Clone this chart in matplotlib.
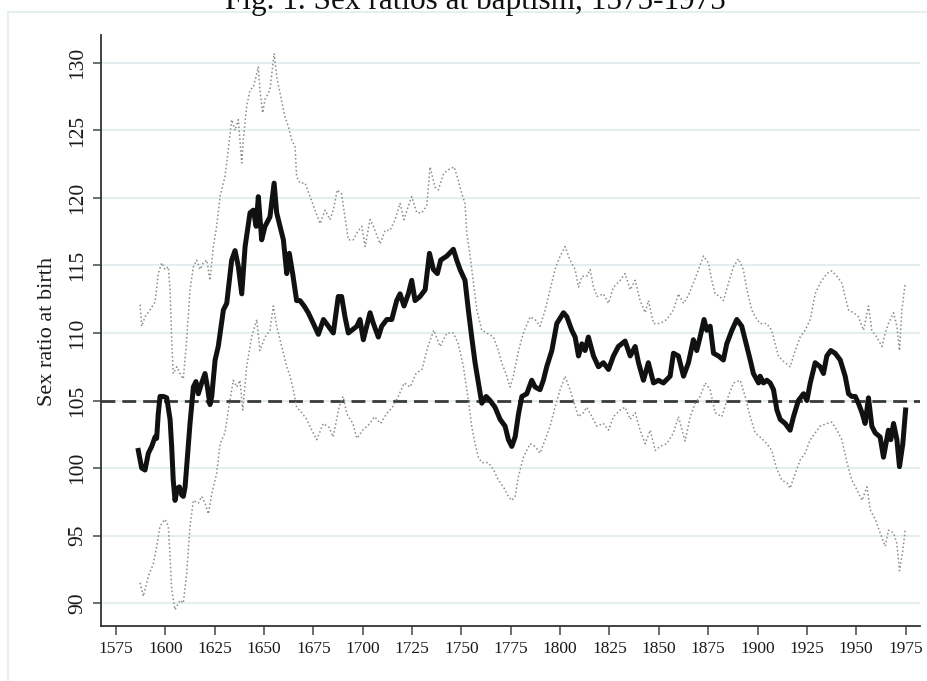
import matplotlib
matplotlib.use("Agg")
import matplotlib.pyplot as plt
from matplotlib.lines import Line2D

plt.rcParams['font.family'] = ['Liberation Serif', 'DejaVu Serif']

title = "Fig. 1. Sex ratios at baptism, 1575-1975"
ylabel = "Sex ratio at birth"
xticks = [1575, 1600, 1625, 1650, 1675, 1700, 1725, 1750, 1775, 1800, 1825, 1850, 1875, 1900, 1925, 1950, 1975]
yticks = [90, 95, 100, 105, 110, 115, 120, 125, 130]
reference_ratio = 105

main_years = [1586.3, 1588.0, 1589.7, 1591.4, 1593.1, 1594.8, 1595.6, 1596.4, 1597.3, 1599.0,
              1600.7, 1602.4, 1603.2, 1604.0, 1604.9, 1606.1, 1607.1, 1608.3, 1609.1, 1610.0,
              1610.8, 1612.5, 1614.2, 1615.5, 1616.7, 1618.4, 1620.1, 1621.3, 1622.6, 1623.5,
              1625.2, 1626.8, 1629.4, 1631.1, 1633.6, 1635.3, 1637.0, 1638.7, 1640.4, 1642.9,
              1644.6, 1646.0, 1647.1, 1648.8, 1650.5, 1653.0, 1655.1, 1656.4, 1658.1, 1659.8,
              1661.5, 1662.8, 1664.5, 1666.5, 1668.2, 1670.3, 1672.4, 1675.0, 1677.5, 1680.1,
              1682.6, 1685.1, 1687.6, 1689.3, 1691.0, 1692.7, 1697.0, 1698.6, 1700.3, 1703.7,
              1705.4, 1707.9, 1709.6, 1712.2, 1714.7, 1717.2, 1718.9, 1720.9, 1723.1, 1724.8,
              1726.5, 1729.0, 1731.6, 1733.8, 1735.8, 1737.8, 1739.5, 1742.6, 1745.9, 1747.6,
              1749.3, 1751.8, 1753.5, 1755.2, 1756.9, 1758.6, 1760.3, 1762.5, 1764.5, 1767.0,
              1769.6, 1772.1, 1773.8, 1775.5, 1777.2, 1778.9, 1780.6, 1783.1, 1785.6, 1787.3,
              1789.8, 1791.5, 1793.2, 1795.8, 1798.3, 1801.7, 1803.4, 1805.9, 1807.6, 1809.3,
              1811.0, 1812.6, 1814.3, 1816.9, 1819.4, 1821.9, 1824.5, 1827.0, 1829.5, 1832.9,
              1835.5, 1838.0, 1839.7, 1842.2, 1844.7, 1847.3, 1849.8, 1852.3, 1855.7, 1857.4,
              1859.9, 1862.5, 1865.0, 1867.5, 1869.2, 1870.9, 1872.9, 1874.3, 1876.0, 1877.7,
              1880.2, 1882.7, 1884.4, 1887.0, 1889.5, 1892.0, 1894.6, 1896.3, 1897.9, 1900.5,
              1901.3, 1903.0, 1904.7, 1906.4, 1908.1, 1909.8, 1911.5, 1914.0, 1916.5, 1918.2,
              1920.7, 1923.3, 1925.0, 1926.7, 1929.2, 1931.7, 1933.4, 1935.1, 1937.1, 1939.3,
              1941.9, 1944.4, 1946.1, 1947.8, 1949.5, 1951.1, 1952.9, 1954.5, 1956.2, 1957.9,
              1959.6, 1962.1, 1963.8, 1966.3, 1967.5, 1968.9, 1970.6, 1971.9, 1973.6, 1975.0]
main_ratio = [101.3, 100.0, 99.85, 101.1, 101.6, 102.3, 102.2, 104.0, 105.3, 105.3,
              105.2, 103.6, 101.6, 99.1, 97.6, 98.5, 98.6, 98.0, 97.9, 98.6,
              100.1, 103.3, 106.0, 106.4, 105.5, 106.3, 107.0, 106.0, 104.7, 105.3,
              108.0, 109.0, 111.7, 112.2, 115.4, 116.1, 114.9, 112.9, 116.4, 118.9,
              119.1, 117.9, 120.1, 116.9, 117.9, 118.6, 121.1, 118.9, 117.9, 116.9,
              114.4, 115.9, 114.4, 112.4, 112.4, 112.0, 111.5, 110.7, 109.9, 111.0,
              110.5, 110.0, 112.7, 112.7, 111.2, 110.0, 110.5, 111.0, 109.5, 111.5,
              110.7, 109.7, 110.5, 111.0, 111.0, 112.4, 112.9, 112.0, 112.9, 113.9,
              112.4, 112.7, 113.2, 115.9, 114.7, 114.4, 115.4, 115.7, 116.2, 115.4,
              114.7, 113.9, 111.7, 109.7, 107.8, 106.3, 104.8, 105.3, 105.0, 104.5,
              103.6, 103.1, 102.1, 101.6, 102.3, 104.0, 105.3, 105.5, 106.5, 106.0,
              105.8, 106.5, 107.5, 108.7, 110.7, 111.5, 111.2, 110.2, 109.7, 108.3,
              109.2, 108.7, 109.7, 108.3, 107.5, 107.8, 107.3, 108.3, 109.0, 109.4,
              108.3, 109.0, 107.8, 106.5, 107.8, 106.3, 106.5, 106.3, 106.8, 108.5,
              108.3, 106.8, 107.8, 109.5, 108.7, 109.7, 111.0, 110.2, 110.5, 108.5,
              108.3, 108.0, 109.2, 110.2, 111.0, 110.5, 109.0, 108.0, 107.0, 106.3,
              106.8, 106.3, 106.5, 106.3, 105.8, 104.3, 103.6, 103.3, 102.8, 103.8,
              105.0, 105.5, 105.0, 106.3, 107.8, 107.5, 107.0, 108.3, 108.7, 108.5,
              108.0, 106.8, 105.5, 105.3, 105.3, 104.8, 104.1, 103.3, 105.2, 103.1,
              102.6, 102.3, 100.8, 102.8, 102.1, 103.3, 102.1, 100.1, 101.8, 104.3]

upper_years = [1587.2, 1588.0, 1589.7, 1592.2, 1594.8, 1596.4, 1598.2, 1599.8, 1601.5, 1602.4,
               1603.2, 1604.0, 1605.8, 1607.4, 1609.1, 1610.8, 1612.5, 1614.2, 1615.9, 1617.6,
               1619.2, 1621.0, 1622.6, 1624.3, 1626.0, 1627.7, 1630.2, 1631.9, 1633.6, 1635.3,
               1637.0, 1638.7, 1639.5, 1641.2, 1642.9, 1644.6, 1646.3, 1647.1, 1647.9, 1649.3,
               1650.5, 1653.0, 1655.1, 1656.4, 1658.1, 1660.6, 1662.3, 1664.0, 1665.7, 1666.5,
               1668.2, 1670.8, 1673.3, 1675.8, 1678.4, 1680.9, 1683.4, 1685.1, 1687.1, 1689.3,
               1691.0, 1692.7, 1695.2, 1697.0, 1699.5, 1701.2, 1703.7, 1705.4, 1708.8, 1711.3,
               1713.8, 1716.4, 1718.9, 1720.9, 1723.1, 1724.8, 1727.4, 1729.9, 1732.4, 1734.1,
               1736.6, 1738.3, 1740.9, 1743.4, 1746.3, 1748.4, 1750.2, 1751.8, 1752.7, 1754.4,
               1756.1, 1757.8, 1760.3, 1762.9, 1766.2, 1768.7, 1770.4, 1773.0, 1774.6, 1776.3,
               1778.9, 1781.4, 1784.8, 1787.3, 1789.8, 1792.4, 1794.9, 1797.4, 1800.0, 1802.5,
               1805.0, 1807.6, 1809.3, 1811.0, 1813.5, 1815.2, 1816.9, 1818.6, 1821.9, 1824.5,
               1827.0, 1830.4, 1832.9, 1835.5, 1838.0, 1840.5, 1843.1, 1844.7, 1847.3, 1850.6,
               1854.0, 1857.4, 1859.9, 1862.5, 1865.0, 1867.5, 1870.1, 1872.6, 1875.1, 1876.8,
               1878.5, 1881.0, 1882.7, 1885.3, 1887.8, 1890.3, 1892.8, 1894.6, 1897.1, 1898.8,
               1901.3, 1904.7, 1907.2, 1908.9, 1910.6, 1913.2, 1916.5, 1919.1, 1921.6, 1924.1,
               1926.7, 1929.2, 1931.7, 1935.1, 1937.6, 1940.2, 1942.7, 1944.4, 1946.1, 1948.6,
               1951.1, 1953.7, 1956.2, 1957.9, 1960.4, 1963.0, 1964.7, 1966.3, 1968.9, 1970.6,
               1971.9, 1973.1, 1974.8]
upper_ratio = [112.1, 110.5, 111.2, 111.7, 112.3, 114.4, 115.2, 114.7, 114.9, 113.2,
               109.5, 107.0, 107.5, 107.0, 106.6, 109.5, 113.2, 114.9, 115.4, 114.7,
               115.2, 115.4, 113.9, 116.4, 117.9, 120.1, 121.6, 123.6, 125.8, 125.0,
               125.8, 122.6, 124.3, 126.8, 128.0, 128.2, 129.2, 129.7, 128.0, 126.3,
               127.3, 128.0, 130.7, 129.0, 127.8, 126.0, 125.3, 124.3, 123.8, 121.6,
               121.1, 121.1, 120.1, 119.1, 118.1, 119.1, 118.4, 119.1, 120.6, 120.3,
               118.6, 116.9, 116.9, 117.4, 117.9, 116.4, 118.4, 117.9, 116.6, 117.6,
               117.6, 118.4, 119.6, 118.4, 119.4, 120.1, 118.9, 118.9, 119.4, 122.3,
               120.8, 120.6, 121.8, 122.1, 122.3, 121.3, 120.3, 119.6, 117.4, 115.7,
               113.7, 111.7, 110.2, 110.0, 109.7, 108.7, 107.8, 106.8, 106.0, 106.8,
               108.7, 110.0, 111.2, 111.0, 110.5, 111.7, 113.2, 114.7, 115.7, 116.4,
               115.4, 114.7, 113.4, 114.2, 114.2, 114.7, 113.4, 112.7, 112.9, 112.2,
               113.4, 113.9, 114.4, 113.2, 113.9, 112.4, 111.5, 112.4, 110.7, 110.7,
               111.0, 111.7, 112.9, 112.2, 112.8, 113.7, 114.7, 115.7, 115.2, 113.9,
               112.9, 112.7, 112.4, 113.7, 114.9, 115.5, 114.7, 113.2, 111.7, 111.2,
               110.7, 110.7, 110.2, 109.2, 108.3, 107.9, 107.5, 108.7, 109.7, 110.2,
               111.0, 112.9, 113.7, 114.4, 114.6, 114.2, 113.7, 112.7, 111.7, 111.5,
               111.2, 110.2, 112.0, 110.2, 109.7, 109.0, 110.0, 110.7, 111.5, 110.5,
               108.7, 111.7, 113.7]

lower_years = [1587.2, 1588.8, 1591.4, 1593.9, 1595.6, 1597.3, 1599.8, 1601.5, 1602.4, 1603.2,
               1604.9, 1607.4, 1609.1, 1610.8, 1612.5, 1614.2, 1616.7, 1618.4, 1620.1, 1621.8,
               1623.5, 1626.0, 1627.7, 1630.2, 1631.9, 1634.4, 1636.2, 1637.8, 1639.2, 1641.2,
               1643.7, 1646.3, 1647.9, 1650.5, 1653.0, 1654.7, 1656.4, 1658.1, 1659.8, 1661.5,
               1663.2, 1664.8, 1666.5, 1669.1, 1671.6, 1674.2, 1676.7, 1680.0, 1683.0, 1685.0,
               1688.0, 1690.0, 1692.0, 1695.0, 1697.0, 1700.0, 1703.0, 1706.0, 1709.0, 1712.0,
               1715.0, 1718.0, 1721.0, 1724.0, 1727.0, 1730.0, 1733.0, 1736.0, 1739.2, 1742.6,
               1745.9, 1748.4, 1751.0, 1753.5, 1755.2, 1756.9, 1758.6, 1760.3, 1763.6, 1766.2,
               1768.7, 1771.3, 1773.8, 1775.5, 1777.2, 1778.9, 1781.4, 1784.8, 1787.3, 1789.8,
               1792.4, 1794.9, 1797.4, 1800.0, 1802.5, 1805.0, 1806.7, 1809.3, 1811.8, 1813.5,
               1816.1, 1818.6, 1821.9, 1824.5, 1827.0, 1830.4, 1832.9, 1835.5, 1838.0, 1840.5,
               1843.1, 1845.6, 1848.2, 1850.6, 1854.0, 1857.4, 1859.9, 1863.3, 1865.9, 1868.4,
               1870.9, 1873.5, 1876.0, 1878.5, 1881.9, 1884.4, 1887.8, 1891.2, 1893.7, 1896.3,
               1898.8, 1901.3, 1904.7, 1907.2, 1909.8, 1912.3, 1914.9, 1916.5, 1919.1, 1921.6,
               1924.1, 1926.7, 1929.2, 1931.7, 1935.1, 1937.6, 1940.2, 1942.7, 1945.3, 1947.8,
               1950.3, 1952.9, 1955.4, 1957.1, 1959.6, 1962.1, 1964.7, 1966.3, 1968.9, 1970.6,
               1971.9, 1973.6, 1974.8]
lower_ratio = [91.5, 90.5, 92.0, 92.9, 94.2, 95.7, 96.2, 95.7, 93.4, 91.0,
               89.5, 90.2, 90.0, 92.2, 95.7, 97.6, 97.4, 97.9, 97.4, 96.6,
               98.1, 99.6, 101.8, 102.6, 104.3, 106.5, 106.0, 106.5, 104.3, 107.5,
               109.7, 111.0, 108.7, 109.7, 110.2, 112.0, 110.5, 109.5, 108.5, 107.5,
               106.8, 105.8, 104.5, 104.1, 103.6, 102.8, 102.1, 103.3, 103.0, 102.3,
               104.5, 105.3, 104.0, 103.3, 102.2, 102.8, 103.2, 103.8, 103.3, 104.0,
               104.5, 105.3, 106.3, 106.0, 107.0, 107.3, 109.0, 110.2, 109.0, 110.0,
               110.0, 109.2, 107.5, 105.0, 103.1, 101.8, 100.8, 100.4, 100.4, 99.9,
               99.1, 98.6, 97.9, 97.6, 97.9, 99.4, 100.8, 101.8, 101.6, 101.1,
               102.1, 103.1, 104.5, 105.8, 106.8, 105.8, 105.0, 103.8, 104.1, 104.5,
               103.8, 103.1, 103.3, 102.8, 103.8, 104.3, 104.5, 103.6, 104.1, 102.8,
               101.8, 102.8, 101.3, 101.6, 101.8, 102.6, 103.8, 102.0, 103.8, 104.8,
               105.3, 106.3, 105.8, 104.1, 103.8, 105.0, 106.3, 106.5, 105.3, 103.8,
               102.6, 102.3, 101.8, 101.3, 99.9, 99.1, 98.9, 98.5, 99.6, 100.6,
               101.1, 102.1, 102.6, 103.1, 103.3, 103.4, 102.8, 102.1, 100.4, 99.1,
               98.4, 97.6, 98.6, 96.9, 96.2, 95.2, 94.2, 95.4, 95.2, 94.4,
               92.4, 93.9, 95.4]

W, H = 928, 681
fig = plt.figure(figsize=(W / 100, H / 100), dpi=100)
fig.patch.set_facecolor('white')

# faint outer frame (graph region border)
fx, fy = 8 / W, 1 - 12 / H
fig.add_artist(Line2D([fx, fx], [0, fy], transform=fig.transFigure, color='#e6eef1', lw=1.5))
fig.add_artist(Line2D([fx, 1], [fy, fy], transform=fig.transFigure, color='#e6eef1', lw=1.5))

left, right = 100.7 / W, 920 / W
bottom, top = 1 - 626 / H, 1 - 35 / H
ax = fig.add_axes([left, bottom, right - left, top - bottom])

ax.set_xlim(1567.25, 1982.3)
ax.set_ylim(88.3, 132.07)

for v in yticks:
    ax.axhline(v, color='#e4eef1', lw=1.5, zorder=0)

ax.axhline(reference_ratio, color='#3a3a3a', lw=2.0, linestyle=(0, (5, 2.5)), zorder=2)

ax.plot(upper_years, upper_ratio, color='#8a8a8a', lw=1.1, linestyle=(0, (1, 1.6)), zorder=3)
ax.plot(lower_years, lower_ratio, color='#8a8a8a', lw=1.1, linestyle=(0, (1, 1.6)), zorder=3)
ax.plot(main_years, main_ratio, color='#111111', lw=3.6, solid_joinstyle='round', zorder=4)

for s in ['top', 'right']:
    ax.spines[s].set_visible(False)
for s in ['left', 'bottom']:
    ax.spines[s].set_color('#333333')
    ax.spines[s].set_linewidth(1.3)

ax.set_xticks(xticks)
ax.set_xticklabels([str(t) for t in xticks], fontsize=12.5, color='#1a1a1a')
ax.set_yticks(yticks)
ax.set_yticklabels([str(t) for t in yticks], fontsize=15.5, color='#1a1a1a', rotation=90, va='center')
ax.tick_params(axis='x', length=6.5, width=1.2, color='#555555', pad=4)
ax.tick_params(axis='y', length=6, width=1.2, color='#555555', pad=4)

fig.text(48 / W, 1 - 331 / H, ylabel, rotation=90, fontsize=16, color='#1a1a1a',
         ha='center', va='center')

fig.text(475 / W, 1 - 9 / H, title, fontsize=22.5, color='#111111', ha='center', va='baseline')

fig.savefig('out.png', dpi=100, facecolor='white')
